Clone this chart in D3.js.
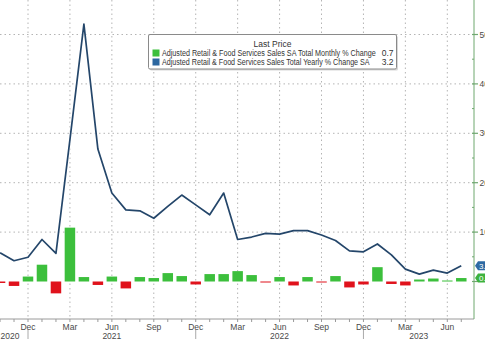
<!DOCTYPE html>
<html>
<head>
<meta charset="utf-8">
<script src="https://cdn.jsdelivr.net/npm/d3@7"></script>
<style>
  html, body { margin: 0; padding: 0; background: #fff; overflow: hidden; }
  svg { display: block; font-family: "Liberation Sans", Arial, sans-serif; }
</style>
</head>
<body>
<svg id="chart" width="485" height="339"></svg>
<script>
// Monthly observations, Oct 2020 – Jul 2023
const months = [
  "2020-10","2020-11","2020-12",
  "2021-01","2021-02","2021-03","2021-04","2021-05","2021-06","2021-07","2021-08","2021-09","2021-10","2021-11","2021-12",
  "2022-01","2022-02","2022-03","2022-04","2022-05","2022-06","2022-07","2022-08","2022-09","2022-10","2022-11","2022-12",
  "2023-01","2023-02","2023-03","2023-04","2023-05","2023-06","2023-07"
];
// Adjusted Retail & Food Services Sales SA Total Monthly % Change
const monthlyChange = [
  -0.3, -0.9, 1.0,
  3.4, -2.4, 10.9, 0.9, -0.7, 1.0, -1.4, 0.9, 0.7, 1.7, 1.1, -0.6,
  1.5, 1.5, 2.1, 1.3, -0.1, 0.9, -0.8, 0.9, -0.1, 1.1, -1.2, -0.6,
  2.9, -0.5, -0.8, 0.4, 0.6, 0.2, 0.7
];
// Adjusted Retail & Food Services Sales Total Yearly % Change SA
const yearlyChange = [
  5.8, 4.2, 4.9,
  8.5, 5.7, 28.7, 52.1, 26.8, 17.9, 14.5, 14.3, 12.8, 15.2, 17.5, 15.5,
  13.5, 17.9, 8.5, 9.0, 9.75, 9.6, 10.3, 10.3, 9.4, 8.3, 6.2, 6.0,
  7.6, 5.4, 2.5, 1.5, 2.3, 1.7, 3.2
];
const yTicks = [0, 10, 20, 30, 40, 50];
const yMinorTicks = [5, 15, 25, 35, 45];
const gridValues = [10, 20, 30, 40, 50];
const monthNames = ["Jan","Feb","Mar","Apr","May","Jun","Jul","Aug","Sep","Oct","Nov","Dec"];
const years = [2020, 2021, 2022, 2023];
const legendTitle = "Last Price";
const seriesNames = [
  "Adjusted Retail & Food Services Sales SA Total Monthly % Change",
  "Adjusted Retail & Food Services Sales Total Yearly % Change SA"
];

const COLORS = {
  barUp: "#3cbf3c",
  barDown: "#e0121c",
  line: "#24466a",
  legendBlue: "#2c67a0",
  badgeBlue: "#2d6aa3",
  badgeGreen: "#3db23d",
  axis: "#6fa86f",
  grid: "#b4b4b4",
  text: "#4a4a4a"
};

// month index counted from Jan 2020
const mIndex = s => { const [y, m] = s.split("-").map(Number); return (y - 2020) * 12 + (m - 1); };

const svg = d3.select("#chart");
const W = 485, H = 339;
const axisX = 474, axisBottom = 319;

const x = d3.scaleLinear().domain([11, 41]).range([28, 447.3]);
const y = d3.scaleLinear().domain([0, 50]).range([281.5, 34.5]);

const data = months.map((m, i) => ({ m, idx: mIndex(m), monthly: monthlyChange[i], yearly: yearlyChange[i] }));

// ---- grid ----
const grid = svg.append("g");
grid.selectAll("line.h").data(gridValues).join("line")
  .attr("x1", 0).attr("x2", axisX)
  .attr("y1", d => y(d)).attr("y2", d => y(d))
  .attr("stroke", COLORS.grid).attr("stroke-width", 1)
  .attr("stroke-dasharray", "1.5,3");

const firstIdx = mIndex(months[0]) - 1, lastIdx = mIndex(months[months.length - 1]);
const allMonths = d3.range(firstIdx, lastIdx + 1);
const quarterMonths = allMonths.filter(i => [2, 5, 8, 11].includes(i % 12) && x(i) >= 0);

grid.selectAll("line.v").data(quarterMonths).join("line")
  .attr("x1", d => x(d)).attr("x2", d => x(d))
  .attr("y1", 0).attr("y2", axisBottom)
  .attr("stroke", COLORS.grid).attr("stroke-width", 1)
  .attr("stroke-dasharray", "1.5,3");

// ---- bars ----
const barW = 10.5;
svg.append("g").selectAll("rect").data(data).join("rect")
  .attr("x", d => x(d.idx) - barW / 2)
  .attr("width", barW)
  .attr("y", d => Math.min(y(d.monthly), y(0)))
  .attr("height", d => Math.max(1, Math.abs(y(d.monthly) - y(0))))
  .attr("fill", d => d.monthly >= 0 ? COLORS.barUp : COLORS.barDown);

// ---- yearly line ----
const line = d3.line().x(d => x(d.idx)).y(d => y(d.yearly));
svg.append("path").datum(data)
  .attr("d", line)
  .attr("fill", "none")
  .attr("stroke", "#ffffff").attr("stroke-width", 3.4).attr("stroke-linejoin", "round").attr("opacity", 0.7);
svg.append("path").datum(data)
  .attr("d", line)
  .attr("fill", "none")
  .attr("stroke", COLORS.line).attr("stroke-width", 1.7).attr("stroke-linejoin", "round");

// ---- x axis ----
const xa = svg.append("g");
xa.append("line").attr("x1", 0).attr("x2", axisX).attr("y1", axisBottom).attr("y2", axisBottom)
  .attr("stroke", "#9a9a9a").attr("stroke-width", 1);
xa.selectAll("line.t").data(allMonths.filter(i => x(i) >= 0 && x(i) <= axisX)).join("line")
  .attr("x1", d => x(d)).attr("x2", d => x(d))
  .attr("y1", axisBottom).attr("y2", axisBottom + 3)
  .attr("stroke", "#9a9a9a");
xa.selectAll("text.m").data(quarterMonths).join("text")
  .attr("x", d => x(d)).attr("y", 329.5)
  .attr("text-anchor", "middle").attr("font-size", 8.5).attr("fill", COLORS.text)
  .text(d => monthNames[d % 12]);

// year separators under each December
const decs = quarterMonths.filter(i => i % 12 === 11);
xa.selectAll("line.ys").data(decs).join("line")
  .attr("x1", d => x(d)).attr("x2", d => x(d))
  .attr("y1", 330).attr("y2", H)
  .attr("stroke", "#aaaaaa");
xa.selectAll("text.y").data(years).join("text")
  .attr("x", yr => {
    const startX = Math.max(x((yr - 2020) * 12 - 1), -8);
    const endX = Math.min(x((yr - 2020) * 12 + 11), axisX);
    return (startX + endX) / 2;
  })
  .attr("y", 338.5)
  .attr("text-anchor", "middle").attr("font-size", 8.5).attr("fill", COLORS.text)
  .text(d => d);

// ---- right y axis ----
const ya = svg.append("g");
ya.append("line").attr("x1", axisX).attr("x2", axisX).attr("y1", 0).attr("y2", axisBottom)
  .attr("stroke", COLORS.axis).attr("stroke-width", 1);
ya.selectAll("line.maj").data(yTicks).join("line")
  .attr("x1", axisX - 2).attr("x2", axisX + 4)
  .attr("y1", d => y(d)).attr("y2", d => y(d))
  .attr("stroke", COLORS.axis).attr("stroke-width", 1.2);
ya.selectAll("line.min").data(yMinorTicks).join("line")
  .attr("x1", axisX - 2).attr("x2", axisX)
  .attr("y1", d => y(d)).attr("y2", d => y(d))
  .attr("stroke", COLORS.axis);
ya.selectAll("text").data(yTicks.filter(d => d > 0)).join("text")
  .attr("x", axisX + 5.5).attr("y", d => y(d) + 3)
  .attr("font-size", 8.5).attr("fill", COLORS.text)
  .text(d => d);

// ---- last value badges ----
function badge(value, fill, textFill) {
  const cy = y(value), h = 9;
  const g = svg.append("g");
  g.append("path")
    .attr("d", `M${axisX + 1},${cy} L${axisX + 4},${cy - h / 2} L${W + 5},${cy - h / 2} L${W + 5},${cy + h / 2} L${axisX + 4},${cy + h / 2} Z`)
    .attr("fill", fill);
  g.append("text").attr("x", axisX + 5).attr("y", cy + 3)
    .attr("font-size", 8).attr("fill", textFill).text(value.toFixed(1));
}
badge(yearlyChange[yearlyChange.length - 1], COLORS.badgeBlue, "#ffffff");
badge(monthlyChange[monthlyChange.length - 1], COLORS.badgeGreen, "#ffffff");

// ---- legend ----
const lg = svg.append("g");
const lx = 148.5, ly = 34.5, lw = 248, lh = 34.5;
lg.append("rect").attr("x", lx + 1.5).attr("y", ly + 1.5).attr("width", lw).attr("height", lh)
  .attr("fill", "#d8d8d8").attr("rx", 1.5);
lg.append("rect").attr("x", lx).attr("y", ly).attr("width", lw).attr("height", lh)
  .attr("fill", "#ffffff").attr("stroke", "#8a8a8a").attr("stroke-width", 1).attr("rx", 1.5);
lg.append("text").attr("x", lx + lw / 2).attr("y", ly + 12.5)
  .attr("text-anchor", "middle").attr("font-size", 8.5).attr("fill", "#333")
  .text(legendTitle);
const lastVals = [monthlyChange[monthlyChange.length - 1], yearlyChange[yearlyChange.length - 1]];
const swatch = [COLORS.barUp, COLORS.legendBlue];
const nameWidths = [214, 208];
seriesNames.forEach((name, i) => {
  const rowY = ly + 18.5 + i * 9;
  lg.append("rect").attr("x", lx + 4).attr("y", rowY - 3.5).attr("width", 7).attr("height", 7).attr("fill", swatch[i]);
  // series names are set in a condensed face: squeeze horizontally to the row width
  const t = lg.append("text")
    .attr("font-size", 8.5).attr("fill", "#333")
    .text(name);
  const natural = t.node().getComputedTextLength();
  const sx = Math.min(1, nameWidths[i] / natural);
  t.attr("transform", `translate(${lx + 13.5},${rowY + 3}) scale(${sx},1)`);
  lg.append("text").attr("x", lx + 245).attr("y", rowY + 3)
    .attr("text-anchor", "end").attr("font-size", 8.5).attr("fill", "#333")
    .text(lastVals[i].toFixed(1));
});
</script>
</body>
</html>
